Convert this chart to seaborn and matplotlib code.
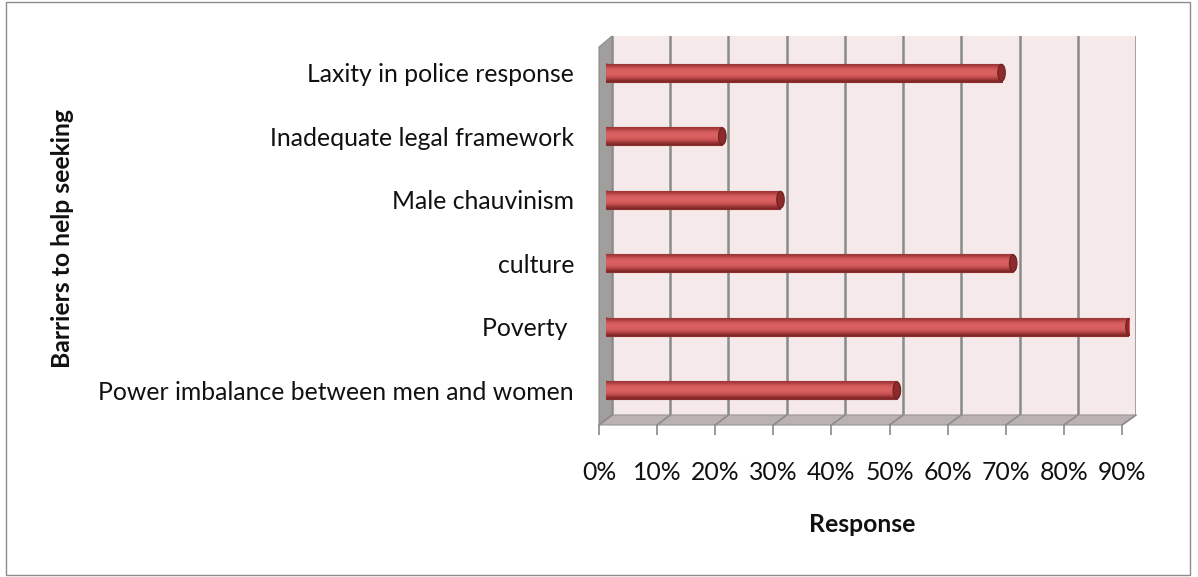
import numpy as np
import pandas as pd
import matplotlib
matplotlib.use("Agg")
import matplotlib.pyplot as plt
import seaborn as sns
from matplotlib.patches import Polygon, Rectangle, Ellipse
from matplotlib.lines import Line2D
from matplotlib.ticker import PercentFormatter

categories = ["Laxity in police response", "Inadequate legal framework", "Male chauvinism",
              "culture", "Poverty ", "Power imbalance between men and women"]
values = [0.68, 0.20, 0.30, 0.70, 0.90, 0.50]
x_ticks = [0.0, 0.1, 0.2, 0.3, 0.4, 0.5, 0.6, 0.7, 0.8, 0.9]
x_title = "Response"
y_title = "Barriers to help seeking"

sns.set_theme(style="white")
FONT = ["Lato", "DejaVu Sans"]
plt.rcParams["font.family"] = FONT
FS = 17.8

W, H = 1198, 577
fig = plt.figure(figsize=(W / 100, H / 100), dpi=100)

def fx(x):
    return x / W

def fy(y):
    return 1 - y / H

def axes_px(l, t, r, b, **kw):
    return fig.add_axes([fx(l), fy(b), (r - l) / W, (b - t) / H], **kw)

# geometry (pixels)
FL, FR, FB, FT = 599, 1122, 425, 47      # front plane
BL, BR, BB, BT = 612, 1136, 415, 36      # back wall

# outer border
fig.patches.append(Rectangle((fx(6), fy(575)), (1190 - 6) / W, (575 - 2) / H,
                             transform=fig.transFigure, fill=False,
                             edgecolor="#8c8c8c", linewidth=1.0, zorder=0))

# back wall
ax_back = axes_px(BL, BT, BR, BB, zorder=1)
ax_back.set_facecolor("#f5e9e9")
ax_back.set_xlim(0, 0.9)
ax_back.set_ylim(0, 1)
for t in x_ticks:
    ax_back.axvline(t, color="#8a8a8a", lw=1.8, zorder=2)
ax_back.set_xticks([])
ax_back.set_yticks([])
for s in ax_back.spines.values():
    s.set_visible(False)

# side wall and floor
side = Polygon([(fx(FL), fy(FT)), (fx(BL), fy(BT)), (fx(BL), fy(BB)), (fx(FL), fy(FB))],
               closed=True, transform=fig.transFigure, facecolor="#a19e9e",
               edgecolor="#8f8c8c", lw=0.8, zorder=2)
floor = Polygon([(fx(FL), fy(FB)), (fx(FR), fy(FB)), (fx(BR), fy(BB)), (fx(BL), fy(BB))],
                closed=True, transform=fig.transFigure, facecolor="#bab2b2",
                edgecolor="#9a9494", lw=0.8, zorder=2)
fig.patches.extend([side, floor])
for i, t in enumerate(x_ticks):
    xb = BL + (BR - BL) * t / 0.9
    xf = FL + (FR - FL) * t / 0.9
    fig.lines.append(Line2D([fx(xf), fx(xb)], [fy(FB), fy(BB)], transform=fig.transFigure,
                            color="#8f8a8a", lw=1.2, zorder=3))

# front axis (ticks and labels)
ax_front = axes_px(FL, FT, FR, FB, zorder=3)
ax_front.patch.set_alpha(0)
ax_front.set_xlim(0, 0.9)
ax_front.set_xticks(x_ticks)
ax_front.xaxis.set_major_formatter(PercentFormatter(1.0, decimals=0))
ax_front.tick_params(axis="x", direction="out", length=7, width=1.2, color="#8a8a8a",
                     labelsize=FS, pad=19, bottom=True, labelcolor="#111111")
ax_front.set_yticks([])
for s in ax_front.spines.values():
    s.set_visible(False)

# main bars (mid depth)
ML, MR = (FL + BL) / 2 + 0.5, (FR + BR) / 2 + 0.5
MT, MB = 41, 422
ax = axes_px(ML, MT, MR, MB, zorder=4)
ax.patch.set_alpha(0)
df = pd.DataFrame({"cat": categories, "val": values})
sns.barplot(data=df, x="val", y="cat", orient="h", color="#d85e5e", width=0.28,
            edgecolor="#8e2f2f", linewidth=0.8, saturation=1, ax=ax)
ax.set_xlim(0, 0.9)
ax.set_ylim(len(categories) - 0.5, -0.5)
ax.set_xlabel("")
ax.set_ylabel("")
ax.set_xticks([])
ax.tick_params(axis="y", left=False, labelsize=FS, pad=17, labelcolor="#111111")
for s in ax.spines.values():
    s.set_visible(False)

# cylinder shading
grad = np.array([0.25, 0.7, 0.95, 1.0, 0.95, 0.8, 0.45, 0.0]).reshape(-1, 1)
cmap = matplotlib.colors.LinearSegmentedColormap.from_list(
    "cyl", ["#7e2626", "#b84545", "#dc6262"])
for p in list(ax.patches):
    x0, y0 = p.get_x(), p.get_y()
    w, h = p.get_width(), p.get_height()
    im = ax.imshow(grad, extent=(x0, x0 + w, y0 + h, y0), aspect="auto",
                   cmap=cmap, vmin=0, vmax=1, zorder=p.get_zorder() + 0.1,
                   interpolation="bicubic")
    im.set_clip_path(p)
    cap = Ellipse((x0 + w, y0 + h / 2), width=0.013, height=h * 0.95,
                  facecolor="#8b2b2b", edgecolor="#6e2020", lw=0.8,
                  zorder=p.get_zorder() + 0.2)
    ax.add_patch(cap)
    lcap = Ellipse((x0, y0 + h / 2), width=0.013, height=h,
                   facecolor="#c95252", edgecolor="#8e2f2f", lw=0.8,
                   zorder=p.get_zorder() - 0.1)
    ax.add_patch(lcap)
ax.set_xlim(0, 0.9)
ax.set_ylim(len(categories) - 0.5, -0.5)

fig.text(fx(862), fy(525), x_title, ha="center", va="center", fontsize=FS,
         fontweight="bold", color="#111111")
fig.text(fx(62), fy(238), y_title, ha="center", va="center", rotation=90,
         fontsize=FS, fontweight="bold", color="#111111")

fig.savefig("out.png", dpi=100)
